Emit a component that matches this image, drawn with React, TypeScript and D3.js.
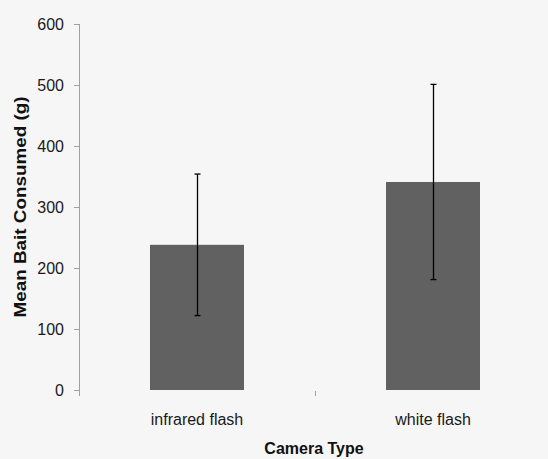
import { useEffect, useRef } from "react";
import * as d3 from "d3";

// categories and values
const categories = ["infrared flash", "white flash"];
const means = [238, 341];
const errors = [116, 160];
const yTicks = [0, 100, 200, 300, 400, 500, 600];

export default function App() {
  const svgRef = useRef<SVGSVGElement>(null);

  useEffect(() => {
    const width = 548, height = 459;
    const svg = d3.select(svgRef.current).attr("width", width).attr("height", height);
    svg.selectAll("*").remove();

    const font = "'Liberation Sans', Arial, sans-serif";
    const left = 79, right = 551, top = 24, bottom = 390;

    svg.append("rect").attr("width", width).attr("height", height).attr("fill", "#f6f6f6");

    const x = d3.scaleBand().domain(categories).range([left, right]).paddingInner(0).paddingOuter(0);
    const y = d3.scaleLinear().domain([0, 600]).range([bottom, top]);

    const data = categories.map((c, i) => ({ cat: c, mean: means[i], err: errors[i] }));
    const barW = 94;

    // y axis
    svg.append("line")
      .attr("x1", left + 0.5).attr("x2", left + 0.5)
      .attr("y1", y(600)).attr("y2", bottom + 6)
      .attr("stroke", "#a0a0a0");
    svg.selectAll(".ytick").data(yTicks).enter().append("line")
      .attr("x1", left - 5).attr("x2", left)
      .attr("y1", (d) => Math.round(y(d)) + 0.5).attr("y2", (d) => Math.round(y(d)) + 0.5)
      .attr("stroke", "#a0a0a0");
    svg.selectAll(".ylab").data(yTicks).enter().append("text")
      .attr("x", left - 15).attr("y", (d) => y(d))
      .attr("dy", "0.35em")
      .attr("text-anchor", "end")
      .attr("font-family", font).attr("font-size", 16)
      .attr("fill", "#1a1a1a")
      .text((d) => d);

    // category boundary tick
    svg.append("line")
      .attr("x1", x(categories[1])! + 0.5).attr("x2", x(categories[1])! + 0.5)
      .attr("y1", bottom + 1).attr("y2", bottom + 6)
      .attr("stroke", "#a0a0a0");

    // bars
    svg.selectAll(".bar").data(data).enter().append("rect")
      .attr("x", (d) => x(d.cat)! + x.bandwidth() / 2 - barW / 2)
      .attr("y", (d) => y(d.mean))
      .attr("width", barW)
      .attr("height", (d) => bottom - y(d.mean))
      .attr("fill", "#616161");

    // error bars
    const eb = svg.selectAll(".err").data(data).enter().append("g")
      .attr("transform", (d) => `translate(${Math.round(x(d.cat)! + x.bandwidth() / 2) + 0.5},0)`);
    eb.append("line")
      .attr("y1", (d) => y(d.mean + d.err)).attr("y2", (d) => y(d.mean - d.err))
      .attr("stroke", "#000").attr("stroke-width", 1.3);
    eb.append("line")
      .attr("x1", -3).attr("x2", 3)
      .attr("y1", (d) => y(d.mean + d.err)).attr("y2", (d) => y(d.mean + d.err))
      .attr("stroke", "#000").attr("stroke-width", 1.3);
    eb.append("line")
      .attr("x1", -3).attr("x2", 3)
      .attr("y1", (d) => y(d.mean - d.err)).attr("y2", (d) => y(d.mean - d.err))
      .attr("stroke", "#000").attr("stroke-width", 1.3);

    // x labels
    svg.selectAll(".xlab").data(categories).enter().append("text")
      .attr("x", (d) => x(d)! + x.bandwidth() / 2)
      .attr("y", 419).attr("dy", "0.35em")
      .attr("text-anchor", "middle")
      .attr("font-family", font).attr("font-size", 16)
      .attr("fill", "#1a1a1a")
      .text((d) => d);

    // axis titles
    svg.append("text")
      .attr("x", (left + right) / 2 - 1).attr("y", 448).attr("dy", "0.35em")
      .attr("text-anchor", "middle")
      .attr("font-family", font).attr("font-size", 16).attr("font-weight", "bold")
      .attr("fill", "#111")
      .text("Camera Type");
    svg.append("text")
      .attr("transform", `translate(20,207) rotate(-90)`)
      .attr("dy", "0.35em")
      .attr("text-anchor", "middle")
      .attr("textLength", 221).attr("lengthAdjust", "spacingAndGlyphs")
      .attr("font-family", font).attr("font-size", 16).attr("font-weight", "bold")
      .attr("fill", "#111")
      .text("Mean Bait Consumed (g)");
  }, []);

  return <svg ref={svgRef} style={{ position: "absolute", left: 0, top: 0, display: "block" }}></svg>;
}
